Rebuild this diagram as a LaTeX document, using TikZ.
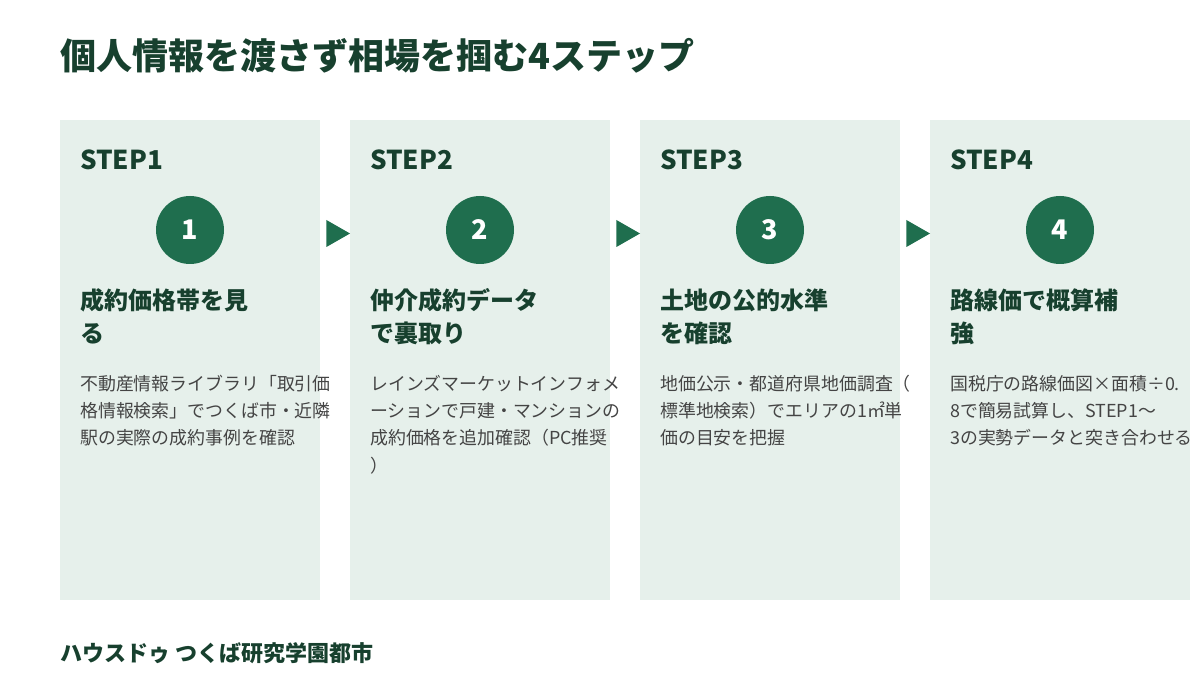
\documentclass[tikz,border=0pt]{standalone}
\usepackage{fontspec}
\setmainfont{Noto Sans CJK JP}
\usetikzlibrary{calc}
\definecolor{titlec}{HTML}{17402E}
\definecolor{cardbg}{HTML}{E6F0EB}
\definecolor{circc}{HTML}{1F6E4E}
\definecolor{bodyc}{HTML}{444444}
\tikzset{
  card/.style={fill=cardbg, draw=none, minimum width=260pt, minimum height=480pt, anchor=north west, inner sep=0pt},
  steplbl/.style={anchor=base west, inner sep=0pt, text=titlec, font=\fontsize{26}{30}\selectfont\bfseries},
  numcirc/.style={circle, fill=circc, minimum size=68pt, inner sep=0pt, text=white, font=\fontsize{27}{30}\selectfont\bfseries},
  headl/.style={anchor=base west, inner sep=0pt, text=titlec, font=\fontsize{24}{28}\selectfont\bfseries},
  bodyl/.style={anchor=base west, inner sep=0pt, text=bodyc, font=\fontsize{17.9}{20}\selectfont},
  arrowc/.style={fill=circc, draw=none},
}
\begin{document}
\begin{tikzpicture}[x=1pt,y=-1pt]
\useasboundingbox (0,0) rectangle (1200,700);
\node[anchor=base west, inner sep=0pt, text=titlec, font=\fontsize{36}{42}\selectfont\bfseries] (title) at (60,70) {個人情報を渡さず相場を掴む4ステップ};

% cards
\node[card] (c1) at (60,120) {};
\node[card] (c2) at (350,120) {};
\node[card] (c3) at (640,120) {};
\node[card] (c4) at (930,120) {};

% step labels
\node[steplbl] (s1) at (80,170) {STEP1};
\node[steplbl] (s2) at (370,170) {STEP2};
\node[steplbl] (s3) at (660,170) {STEP3};
\node[steplbl] (s4) at (950,170) {STEP4};

% circles
\node[numcirc] (n1) at (190,230) {1};
\node[numcirc] (n2) at (480,230) {2};
\node[numcirc] (n3) at (770,230) {3};
\node[numcirc] (n4) at (1060,230) {4};

% arrows
\foreach \a/\b in {c1/c2,c2/c3,c3/c4}{
  \fill[arrowc] ($(\a.north east)+(6,100)$) -- ($(\b.north west)+(0,113.5)$) -- ($(\a.north east)+(6,127)$) -- cycle;
}

% headings
\node[headl] (h1a) at (80,310) {成約価格帯を見};
\node[headl] (h1b) at (80,343) {る};
\node[headl] (h2a) at (370,310) {仲介成約データ};
\node[headl] (h2b) at (370,343) {で裏取り};
\node[headl] (h3a) at (660,310) {土地の公的水準};
\node[headl] (h3b) at (660,343) {を確認};
\node[headl] (h4a) at (950,310) {路線価で概算補};
\node[headl] (h4b) at (950,343) {強};

% bodies
\node[bodyl] (b1a) at (80,391) {不動産情報ライブラリ「取引価};
\node[bodyl] (b1b) at (80,418) {格情報検索」でつくば市・近隣};
\node[bodyl] (b1c) at (80,445) {駅の実際の成約事例を確認};

\node[bodyl] (b2a) at (370,391) {レインズマーケットインフォメ};
\node[bodyl] (b2b) at (370,418) {ーションで戸建・マンションの};
\node[bodyl] (b2c) at (370,445) {成約価格を追加確認（PC推奨};
\node[bodyl] (b2d) at (370,472) {）};

\node[bodyl] (b3a) at (660,391) {地価公示・都道府県地価調査（};
\node[bodyl] (b3b) at (660,418) {標準地検索）でエリアの1㎡単};
\node[bodyl] (b3c) at (660,445) {価の目安を把握};

\node[bodyl] (b4a) at (950,391) {国税庁の路線価図×面積÷0.};
\node[bodyl] (b4b) at (950,418) {8で簡易試算し、STEP1〜};
\node[bodyl] (b4c) at (950,445) {3の実勢データと突き合わせる};

% footer
\node[anchor=base west, inner sep=0pt, text=titlec, font=\fontsize{22}{26}\selectfont\bfseries] (footer) at (60,661) {ハウスドゥ つくば研究学園都市};
\end{tikzpicture}
\end{document}
